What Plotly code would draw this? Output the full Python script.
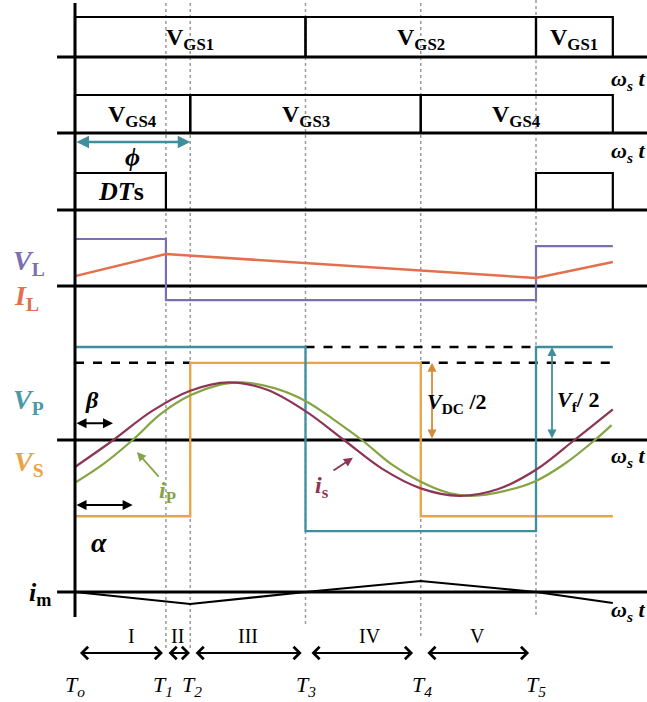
import plotly.graph_objects as go

W, H = 647, 702

# ---------------- data ----------------
T_names = ["T<sub>o</sub>", "T<sub>1</sub>", "T<sub>2</sub>", "T<sub>3</sub>", "T<sub>4</sub>", "T<sub>5</sub>"]
T_vals = [0, 71, 90, 180, 270, 360]
T_END = 420

gs1_edges = [0, 180, 360, 420]
gs1_labels = ["GS1", "GS2", "GS1"]
gs2_edges = [0, 90, 270, 420]
gs2_labels = ["GS4", "GS3", "GS4"]
dts_boxes = [(0, 71), (360, 420)]

vl_x = [0, 71, 71, 360, 360, 420]
vl_y = [1.0, 1.0, -0.30, -0.30, 0.85, 0.85]
il_x = [0, 71, 360, 420]
il_y = [0.21, 0.68, 0.17, 0.51]

vp_x = [0, 180, 180, 360, 360, 420]
vp_y = [1.0, 1.0, -0.98, -0.98, 1.0, 1.0]
vs_x = [0, 90, 90, 270, 270, 420]
vs_y = [-0.82, -0.82, 0.83, 0.83, -0.82, -0.82]
dash_top_x = [180, 360]       # VP level dashed
dash_vs_x1 = [0, 90]          # VS level dashed
dash_vs_x2 = [270, 420]

is_x = [0, 30, 60, 90, 120, 150, 180, 210, 240, 270, 300, 330, 360, 390, 420]
is_y = [-0.29, 0.0, 0.31, 0.53, 0.62, 0.54, 0.31, 0.0, -0.31, -0.52, -0.60, -0.53, -0.32, 0.0, 0.33]
ip_x = [0, 22, 45, 67, 90, 112, 130, 155, 180, 202, 224, 247, 270, 292, 310, 335, 360, 383, 406, 419]
ip_y = [-0.46, -0.26, 0.0, 0.28, 0.48, 0.59, 0.62, 0.56, 0.42, 0.22, 0.0, -0.26, -0.45, -0.57,
        -0.60, -0.55, -0.44, -0.25, 0.0, 0.16]

im_x = [0, 90, 180, 270, 360, 420]
im_y = [0.0, -1.2, 0.0, 1.1, 0.0, -1.1]

phase_names = ["I", "II", "III", "IV", "V"]
phase_ranges = [(2.7, 68.7), (71.9, 89.8), (93, 177), (183.5, 264), (274, 354.6)]
phase_label_x = [44, 80, 135, 230, 314]

# ---------------- colours ----------------
C_TEAL = "#3f8e9e"
C_VS = "#e8a445"
C_VL = "#7b70ae"
C_IL = "#e3704c"
C_IS = "#8c3556"
C_IP = "#86a443"
FONT = "Liberation Serif"

# pixel geometry: x degrees -> px = 75 + deg*PXD
PXD = 461 / 360.0
x_range = [-75 / PXD, (W - 75) / PXD]

# panel baselines (px) and px per unit
panels = {
    "y": (57, 40),
    "y2": (133, 38),
    "y3": (210, 37),
    "y4": (286, 47),
    "y5": (440, 93),
    "y6": (592, 10),
}

def rng(base, h):
    return [(base - H) / h, base / h]

fig = go.Figure()

def line(x, y, ax, color="black", width=2, dash=None, shape="linear"):
    fig.add_trace(go.Scatter(x=x, y=y, yaxis=ax, mode="lines",
                             line=dict(color=color, width=width, dash=dash, shape=shape),
                             hoverinfo="skip"))

# baselines
for ax in panels:
    line([-14, 460], [0, 0], ax, width=3)

# gate boxes
for i in range(3):
    a, b = gs1_edges[i], gs1_edges[i + 1]
    line([a, a, b, b], [0, 1, 1, 0], "y", width=2.2)
    a, b = gs2_edges[i], gs2_edges[i + 1]
    line([a, a, b, b], [0, 1, 1, 0], "y2", width=2.2)
for a, b in dts_boxes:
    line([a, a, b, b], [0, 1, 1, 0], "y3", width=2.2)

# VL / IL
line(vl_x, vl_y, "y4", color=C_VL, width=2.2)
line(il_x, il_y, "y4", color=C_IL, width=2.5)

# VP / VS
line(dash_top_x, [1, 1], "y5", width=2.5, dash="dash")
line(dash_vs_x1, [0.83, 0.83], "y5", width=2.5, dash="dash")
line(dash_vs_x2, [0.83, 0.83], "y5", width=2.5, dash="dash")
line(vs_x, vs_y, "y5", color=C_VS, width=2.3)
line(vp_x, vp_y, "y5", color=C_TEAL, width=2.3)
line(ip_x, ip_y, "y5", color=C_IP, width=2.2, shape="spline")
line(is_x, is_y, "y5", color=C_IS, width=2.2, shape="spline")

# im
line(im_x, im_y, "y6", width=2.2)

# ---------------- shapes ----------------
shapes = []
dot_ends = [648, 648, 624, 636, 615]
for t, e in zip(T_vals[1:], dot_ends):
    shapes.append(dict(type="line", xref="x", yref="paper", x0=t, x1=t,
                       y0=1 - e / H, y1=1, layer="below",
                       line=dict(color="#9a9a9a", width=1.5, dash="dot")))
shapes.append(dict(type="line", xref="x", yref="paper", x0=0, x1=0,
                   y0=1 - 617 / H, y1=1 - 3 / H, line=dict(color="black", width=3)))

# ---------------- annotations ----------------
ann = []

def text(x, y, ax, s, size, color="black", xanchor="center"):
    ann.append(dict(x=x, y=y, xref="x", yref=ax, text=s, showarrow=False,
                    xanchor=xanchor, yanchor="middle",
                    font=dict(family=FONT, size=size, color=color)))

def arrow(x0, y0, x1, y1, ax, color="black", both=False, head=2, width=2, size=1):
    ann.append(dict(x=x1, y=y1, ax=x0, ay=y0, xref="x", yref=ax, axref="x", ayref=ax,
                    text="", showarrow=True, arrowhead=head, arrowsize=size,
                    arrowwidth=width, arrowcolor=color, standoff=0, startstandoff=0,
                    arrowside="end+start" if both else "end", startarrowhead=head,
                    startarrowsize=size))

for i, lab in enumerate(gs1_labels):
    text((gs1_edges[i] + gs1_edges[i + 1]) / 2, 0.45, "y", "<b>V<sub>%s</sub></b>" % lab, 24)
for i, lab in enumerate(gs2_labels):
    text((gs2_edges[i] + gs2_edges[i + 1]) / 2, 0.45, "y2", "<b>V<sub>%s</sub></b>" % lab, 24)

wst = "<b><i>ω<sub>s</sub> t</i></b>"
text(417, -0.57, "y", wst, 22, xanchor="left")
text(417, -0.5, "y2", wst, 22, xanchor="left")
text(417, -0.18, "y5", wst, 22, xanchor="left")
text(417, -1.9, "y6", wst, 22, xanchor="left")

# phi
arrow(0, -0.24, 90, -0.24, "y2", color=C_TEAL, both=True, head=2, width=2.5)
text(45, -0.64, "y2", "<b><i>ϕ</i></b>", 26)
text(36, 0.49, "y3", "<b><i>DT</i>s</b>", 26)

# VL IL labels
text(-36, 0.5, "y4", "<b><i>V</i><sub>L</sub></b>", 28, color=C_VL)
text(-38, -0.25, "y4", "<b><i>I</i><sub>L</sub></b>", 28, color=C_IL)

# VP VS labels
text(-36, 0.41, "y5", "<b><i>V</i><sub>P</sub></b>", 28, color="#4a9aa5")
text(-36, -0.25, "y5", "<b><i>V</i><sub>S</sub></b>", 28, color=C_VS)

# beta / alpha
text(13, 0.43, "y5", "<b><i>β</i></b>", 24)
arrow(0, 0.18, 29.7, 0.18, "y5", both=True, head=2, width=2)
arrow(0, -0.70, 45, -0.70, "y5", both=True, head=2, width=2)
text(19, -1.1, "y5", "<b><i>α</i></b>", 28)

# ip / is
arrow(66.4, -0.41, 48.4, -0.13, "y5", color=C_IP, head=2, width=1.8)
text(72, -0.56, "y5", "<b><i>i</i><sub>P</sub></b>", 24, color=C_IP)
arrow(200.7, -0.34, 217, -0.19, "y5", color=C_IS, head=2, width=1.8)
text(193, -0.5, "y5", "<b><i>i</i><sub>s</sub></b>", 24, color=C_IS)

# VDC/2, Vf/2
arrow(278.8, 0.0, 278.8, 0.83, "y5", color="#d88a35", both=True, head=2, width=1.8)
text(298, 0.40, "y5", "<b><i>V</i><sub>DC</sub> /2</b>", 22)
arrow(372.5, 0.0, 372.5, 1.0, "y5", color=C_TEAL, both=True, head=2, width=1.8)
text(393, 0.42, "y5", "<b><i>V</i><sub>f</sub>/ 2</b>", 22)

# im label
text(-27, -0.2, "y6", "<b><i>i</i><sub>m</sub></b>", 26)

# phases
for name, (a, b) in zip(phase_names, phase_ranges):
    arrow(a, -6.1, b, -6.1, "y6", both=True, head=4, width=2, size=1.2)
for name, xl in zip(phase_names, phase_label_x):
    text(xl, -4.4, "y6", name, 20)
T_label_x = [0, 69, 91, 180, 271, 360]
for name, xl in zip(T_names, T_label_x):
    text(xl, -9.4, "y6", "<i>%s</i>" % name, 22)

layout_axes = {}
for i, (ax, (base, h)) in enumerate(panels.items()):
    key = "yaxis" if ax == "y" else "yaxis" + ax[1:]
    d = dict(range=rng(base, h), visible=False, fixedrange=True)
    if ax != "y":
        d["overlaying"] = "y"
    layout_axes[key] = d

fig.update_layout(
    width=W, height=H, margin=dict(l=0, r=0, t=0, b=0),
    paper_bgcolor="white", plot_bgcolor="white", showlegend=False,
    xaxis=dict(range=x_range, visible=False, fixedrange=True),
    shapes=shapes, annotations=ann, **layout_axes,
)
fig.write_html("out.html")
